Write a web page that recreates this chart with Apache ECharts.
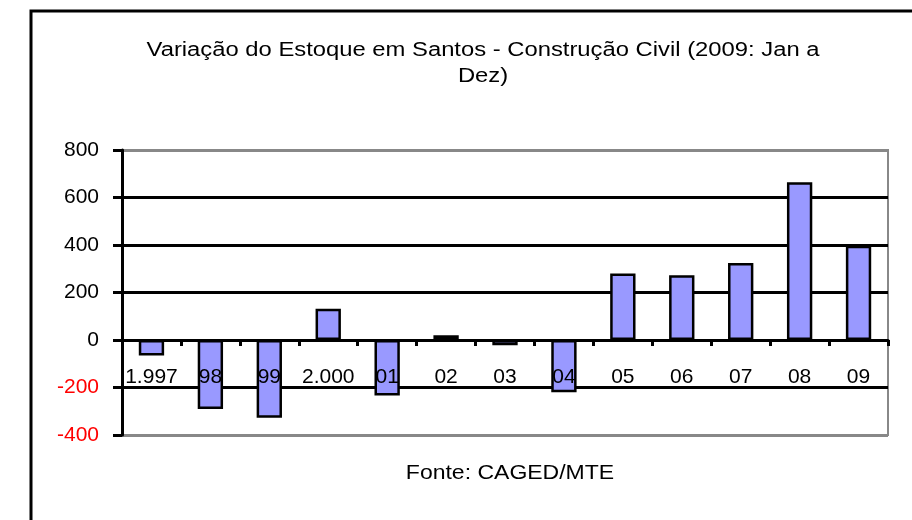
<!DOCTYPE html>
<html>
<head>
<meta charset="utf-8">
<script src="https://cdn.jsdelivr.net/npm/echarts@6/dist/echarts.min.js"></script>
<style>
  html, body { margin: 0; padding: 0; background: #fff; }
  #chart { width: 912px; height: 520px; }
</style>
</head>
<body>
<div id="chart"></div>
<script>
var anos = ['1.997', '98', '99', '2.000', '01', '02', '03', '04', '05', '06', '07', '08', '09'];
var estoque = [-65, -290, -327, 132, -234, 20, -22, -220, 280, 273, 324, 664, 397];
var tituloLinhas = ['Variação do Estoque em Santos - Construção Civil (2009: Jan a', 'Dez)'];
var fonte = 'Fonte: CAGED/MTE';

var chart = echarts.init(document.getElementById('chart'));
var fontFam = '"Liberation Sans", Arial, sans-serif';

function texto(str, x, y, sx) {
  return {
    type: 'text', x: x, y: y, scaleX: sx, z: 10,
    style: {
      text: str, fontFamily: fontFam, fontSize: 20, fill: '#000',
      align: 'center', verticalAlign: 'middle'
    }
  };
}

var option = {
  backgroundColor: '#ffffff',
  animation: false,
  grid: {
    left: 122, right: 24, top: 150, bottom: 85,
    show: true, borderColor: '#888888', borderWidth: 2
  },
  xAxis: {
    type: 'category',
    data: anos,
    z: 5,
    axisLine: { onZero: true, lineStyle: { color: '#000', width: 3 } },
    axisTick: { show: true, inside: false, length: 6, lineStyle: { color: '#000', width: 3 } },
    axisLabel: {
      fontFamily: fontFam, fontSize: 21, color: '#000', margin: -68,
      interval: 0, hideOverlap: false
    },
    splitLine: { show: false }
  },
  yAxis: {
    type: 'value',
    min: -400, max: 800, interval: 200,
    axisLine: { show: true, lineStyle: { color: '#000', width: 3 } },
    axisTick: { show: true, length: 9, lineStyle: { color: '#000', width: 3 } },
    axisLabel: {
      fontFamily: fontFam, fontSize: 21, margin: 23,
      color: function (v) { return Number(v) < 0 ? '#ff0000' : '#000000'; }
    },
    splitLine: {
      show: true,
      lineStyle: { color: ['#888', '#000', '#000', '#000', '#000', '#000', '#888'], width: 3 }
    }
  },
  series: [{
    type: 'bar',
    data: estoque,
    barWidth: '43%',
    itemStyle: { color: '#9999ff', borderColor: '#000', borderWidth: 2.5 }
  }],
  graphic: [
    {
      type: 'rect', silent: true,
      shape: { x: 31, y: 11, width: 910, height: 530 },
      style: { fill: 'none', stroke: '#000', lineWidth: 3 }
    },
    texto(tituloLinhas[0], 483, 50, 1.19),
    texto(tituloLinhas[1], 483, 76, 1.19),
    texto(fonte, 510, 473, 1.15)
  ]
};

chart.setOption(option);
</script>
</body>
</html>
